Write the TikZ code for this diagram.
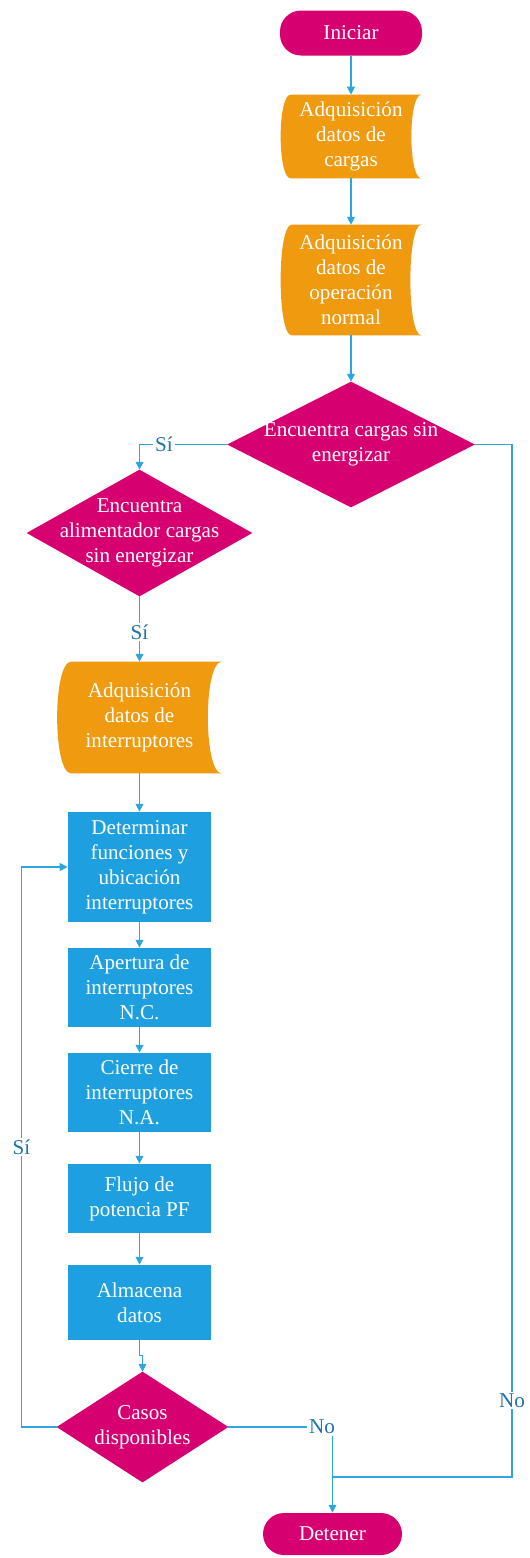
\documentclass[tikz,border=0pt]{standalone}
\usepackage{fontspec}
\setmainfont{Liberation Serif}
\usetikzlibrary{arrows.meta,backgrounds}
\definecolor{rosa}{RGB}{214,0,112}
\definecolor{naranja}{RGB}{239,154,15}
\definecolor{azul}{RGB}{30,160,224}
\definecolor{lineaazul}{RGB}{45,165,222}
\definecolor{textoazul}{RGB}{30,115,175}
% forma de datos almacenados: nombre del nodo, entrante en cm
\newcommand{\datosforma}[2]{%
  \fill[naranja] ([xshift=#2cm]#1.north west) -- (#1.north east)
    .. controls ([xshift={-1.3333*#2cm}]#1.north east) and ([xshift={-1.3333*#2cm}]#1.south east) .. (#1.south east)
    -- ([xshift=#2cm]#1.south west)
    .. controls ([xshift={-0.3333*#2cm}]#1.south west) and ([xshift={-0.3333*#2cm}]#1.north west) .. ([xshift=#2cm]#1.north west) -- cycle;}
\tikzset{
  base/.style={text=white,align=center,font=\fontsize{12}{14.2}\selectfont,inner sep=0pt},
  terminal/.style={base,fill=rosa,rounded corners=0.42cm,minimum width=2.84cm,minimum height=0.9cm},
  datos/.style={base},
  decision/.style={base},
  proceso/.style={base,fill=azul,minimum width=2.86cm},
  conector/.style={draw=lineaazul,line width=0.6pt},
  flecha/.style={conector,-{Triangle[width=4.5pt,length=4.5pt]}},
  etiqueta/.style={fill=white,text=textoazul,font=\fontsize{12}{14.2}\selectfont,inner sep=1pt}
}
\begin{document}
\begin{tikzpicture}
\useasboundingbox (0,0) rectangle (10.58,-31.16);
% Inicio y adquisicion de datos
\node (ini) [terminal] at (7.02,-0.66) {Iniciar};
\node (d1) [datos,minimum width=2.8cm,minimum height=1.66cm] at (7.02,-2.73) {Adquisición\\datos de\\cargas};
\node (d2) [datos,minimum width=2.8cm,minimum height=2.2cm] at (7.02,-5.6) {Adquisición\\datos de\\operación\\normal};
% Decisiones
\node (dec1) [decision,minimum width=4.94cm,minimum height=2.5cm] at (7.02,-8.89) {Encuentra cargas sin\\energizar};
\node (dec2) [decision,minimum width=4.5cm,minimum height=2.52cm] at (2.79,-10.66) {Encuentra\\alimentador cargas\\sin energizar};
\node (d3) [datos,minimum width=3.28cm,minimum height=2.22cm] at (2.79,-14.35) {Adquisición\\datos de\\interruptores};
% Procesos
\node (p1) [proceso,minimum height=2.2cm] at (2.79,-17.34) {Determinar\\funciones y\\ubicación\\interruptores};
\node (p2) [proceso,minimum height=1.58cm] at (2.79,-19.75) {Apertura de\\interruptores\\N.C.};
\node (p3) [proceso,minimum height=1.58cm] at (2.79,-21.85) {Cierre de\\interruptores\\N.A.};
\node (p4) [proceso,minimum height=1.38cm] at (2.79,-23.97) {Flujo de\\potencia PF};
\node (p5) [proceso,minimum height=1.5cm] at (2.79,-26.05) {Almacena\\datos};
\node (dec3) [decision,minimum width=3.42cm,minimum height=2.2cm] at (2.85,-28.54) {Casos\\disponibles};
\node (fin) [terminal,minimum width=2.78cm,minimum height=0.84cm] at (6.65,-30.68) {Detener};
% Formas de fondo
\begin{scope}[on background layer]
\datosforma{d1}{0.2}
\datosforma{d2}{0.22}
\datosforma{d3}{0.28}
\foreach \n in {dec1,dec2,dec3} \fill[rosa] (\n.north) -- (\n.east) -- (\n.south) -- (\n.west) -- cycle;
\end{scope}
% Conectores
\draw[flecha] (ini) -- (d1);
\draw[flecha] (d1) -- (d2);
\draw[flecha] (d2) -- (dec1);
\draw[flecha] (dec1.west) -| node[etiqueta,pos=0.36]{Sí} (dec2.north);
\draw[flecha] (dec2.south) -- node[etiqueta,pos=0.55]{Sí} (d3.north);
\draw[flecha] (d3) -- (p1);
\foreach \a/\b in {p1/p2,p2/p3,p3/p4,p4/p5} \draw[flecha] (\a) -- (\b);
\draw[flecha] (p5.south) -- ++(0,-0.3) -| (dec3.north);
\coordinate (lazo) at (0.43,-28.54);
\draw[flecha] (dec3.west) -- (lazo) |- node[etiqueta,pos=0.25]{Sí} (p1.west);
\draw[flecha] (dec3.east) -| node[etiqueta,pos=0.45]{No} (fin.north);
\coordinate (esq) at (10.24,-29.54);
\coordinate (junta) at (fin.north |- esq);
\draw[conector] (dec1.east) -| node[etiqueta,pos=0.963]{No} (esq) -- (junta);
\end{tikzpicture}
\end{document}
